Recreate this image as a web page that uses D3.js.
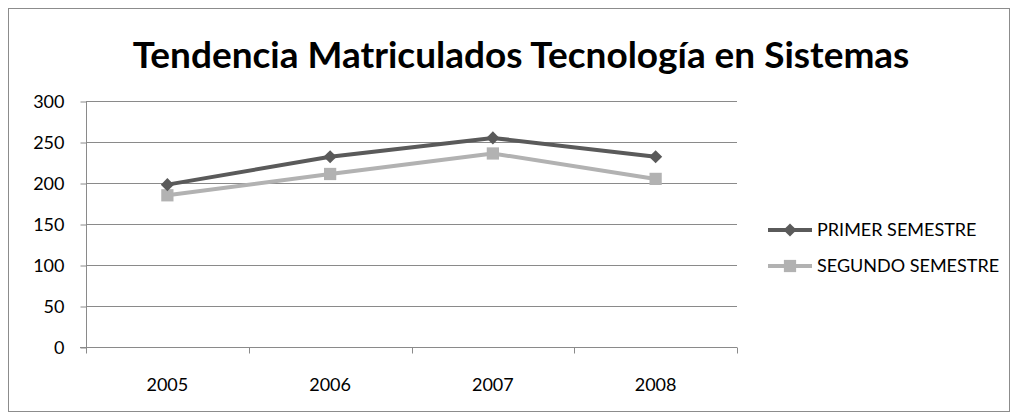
<!DOCTYPE html>
<html>
<head>
<meta charset="utf-8">
<script src="https://cdn.jsdelivr.net/npm/d3@7"></script>
<style>
  body { margin: 0; background: #fff; }
  text { font-family: Lato, "Open Sans", sans-serif; fill: #000; }
</style>
</head>
<body>
<script>
'use strict';

// chart data
const years = ["2005", "2006", "2007", "2008"];
const primerSemestre = [198, 232, 255, 232];
const segundoSemestre = [185, 211, 236, 205];
const yTicks = [0, 50, 100, 150, 200, 250, 300];
const seriesNames = ["PRIMER SEMESTRE", "SEGUNDO SEMESTRE"];
const titleText = "Tendencia Matriculados Tecnología en Sistemas";

const width = 1018, height = 416;
const colors = ["#5a5a5a", "#b2b2b2"];

const svg = d3.select('body').append('svg')
  .attr('width', width)
  .attr('height', height);

// outer chart frame
svg.append('rect')
  .attr('x', 8.5).attr('y', 8.5)
  .attr('width', 1001).attr('height', 403)
  .attr('fill', '#fff')
  .attr('stroke', '#8c8c8c')
  .attr('stroke-width', 1);

// title
const title = svg.append('text')
  .attr('x', 521)
  .attr('y', 68)
  .attr('text-anchor', 'middle')
  .style('font-weight', 'bold')
  .style('font-size', '32px')
  .text(titleText);
// fit the title to the width it takes in the picture
let tw = title.node().getComputedTextLength();
title.style('font-size', (32 * 777 / tw) + 'px');

// scales
const xScale = d3.scaleBand()
  .domain(years)
  .range([86, 737]);

const yScale = d3.scaleLinear()
  .domain([0, 300])
  .range([347, 101]);

// gridlines
svg.append('g')
  .selectAll('line')
  .data(yTicks.filter(d => d > 0))
  .enter()
  .append('line')
    .attr('x1', 86).attr('x2', 737)
    .attr('y1', d => Math.round(yScale(d)) + 0.5)
    .attr('y2', d => Math.round(yScale(d)) + 0.5)
    .attr('stroke', '#8a8a8a')
    .attr('stroke-width', 1);

// y axis
const yAxis = d3.axisLeft(yScale).tickValues(yTicks).tickSize(6).tickPadding(16);
const gy = svg.append('g')
  .attr('transform', 'translate(86.5, 0.5)')
  .call(yAxis);
gy.attr('font-family', null).attr('font-size', null);
gy.selectAll('path, line').attr('stroke', '#8a8a8a');
gy.select('.domain').attr('d', 'M0,' + yScale(300) + 'V' + yScale(0));
gy.selectAll('text')
  .style('font-size', '18px')
  .attr('fill', '#000');

// x axis with ticks on category boundaries
const xAxisG = svg.append('g')
  .attr('transform', 'translate(0,' + (Math.round(yScale(0)) + 0.5) + ')');
xAxisG.append('line')
  .attr('x1', 80).attr('x2', 737)
  .attr('stroke', '#8a8a8a');
const bounds = years.map(d => xScale(d)).concat([xScale.range()[1]]);
xAxisG.selectAll('.bt')
  .data(bounds)
  .enter()
  .append('line')
    .attr('x1', d => Math.round(d) + 0.5)
    .attr('x2', d => Math.round(d) + 0.5)
    .attr('y1', 0).attr('y2', 6)
    .attr('stroke', '#8a8a8a');
xAxisG.selectAll('text')
  .data(years)
  .enter()
  .append('text')
    .attr('x', d => xScale(d) + xScale.bandwidth() / 2)
    .attr('y', 43)
    .attr('text-anchor', 'middle')
    .style('font-size', '18px')
    .text(d => d);

// lines
const line = d3.line()
  .x((d, i) => xScale(years[i]) + xScale.bandwidth() / 2)
  .y(d => yScale(d));

const seriesData = [primerSemestre, segundoSemestre];

// draw second series first so first sits on top
[1, 0].forEach(k => {
  svg.append('path')
    .datum(seriesData[k])
    .attr('d', line)
    .attr('fill', 'none')
    .attr('stroke', colors[k])
    .attr('stroke-width', 4)
    .attr('stroke-linejoin', 'round');
});

const diamond = d3.symbol().type(d3.symbolDiamond2).size(110);
const square = d3.symbol().type(d3.symbolSquare).size(150);

svg.append('g')
  .selectAll('path')
  .data(segundoSemestre)
  .enter()
  .append('path')
    .attr('d', square)
    .attr('transform', (d, i) => 'translate(' + (xScale(years[i]) + xScale.bandwidth() / 2) + ',' + yScale(d) + ')')
    .attr('fill', colors[1]);

svg.append('g')
  .selectAll('path')
  .data(primerSemestre)
  .enter()
  .append('path')
    .attr('d', diamond)
    .attr('transform', (d, i) => 'translate(' + (xScale(years[i]) + xScale.bandwidth() / 2) + ',' + yScale(d) + ')')
    .attr('fill', colors[0]);

// legend
const legend = svg.append('g');
seriesNames.forEach((name, i) => {
  const ly = 230 + i * 36;
  legend.append('line')
    .attr('x1', 768).attr('x2', 812)
    .attr('y1', ly).attr('y2', ly)
    .attr('stroke', colors[i])
    .attr('stroke-width', 4);
  legend.append('path')
    .attr('d', i === 0 ? diamond : square)
    .attr('transform', 'translate(790,' + ly + ')')
    .attr('fill', colors[i]);
  legend.append('text')
    .attr('x', 817)
    .attr('y', ly + 6)
    .style('font-size', '18px')
    .text(name);
});
</script>
</body>
</html>
